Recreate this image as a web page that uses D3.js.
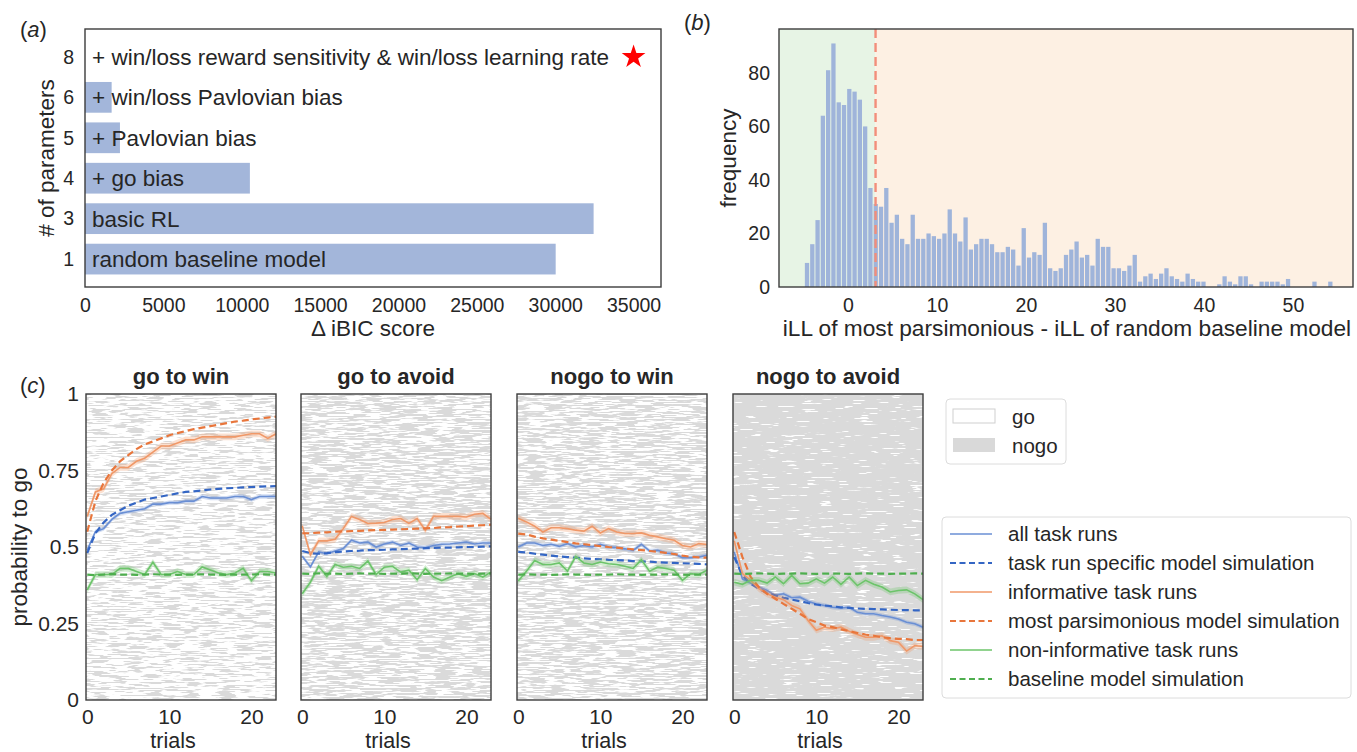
<!DOCTYPE html>
<html>
<head>
<meta charset="utf-8">
<script src="https://cdn.jsdelivr.net/npm/d3@7"></script>
<style>
  body { margin: 0; background: #fff; }
  svg { font-family: "Liberation Sans", Arial, sans-serif; }
</style>
</head>
<body>
<script>
// ---- panel (a): model comparison ----
var paramCounts = ["1", "3", "4", "5", "6", "8"];
var modelNames = ["random baseline model", "basic RL", "+ go bias", "+ Pavlovian bias",
  "+ win/loss Pavlovian bias", "+ win/loss reward sensitivity & win/loss learning rate"];
var deltaIBIC = [30030, 32450, 10520, 2230, 1700, 0];
var bestModel = 5;           // index of the starred model
var starAt = 35000;
var iBICTicks = [0, 5000, 10000, 15000, 20000, 25000, 30000, 35000];

// ---- panel (b): histogram ----
var binStart = -4.9, binWidth = 0.594;
var histCounts = [9,16,25,64,81,91,69,68,74,73, 70,60,37,31,30,37,24,27,18,16,
  27,18,18,20,19,18,20,29,20,17, 26,14,16,18,18,16,13,13,15,14,
  8,22,11,13,12,24,7,6,7,12, 14,17,11,12,8,18,15,15,7,7,
  6,8,12,2,4,5,3,5,7,4, 3,2,5,3,2,2,0,0,1,4,
  2,1,4,4,1,0,2,2,2,2, 1,3,0,0,0,0,2,0,0,2];
var informativeCut = 3.1;
var histXTicks = [0, 10, 20, 30, 40, 50];
var histYTicks = [0, 20, 40, 60, 80];

// ---- panel (c): learning curves, one row per condition ----
var conditions = ["go to win", "go to avoid", "nogo to win", "nogo to avoid"];
var trialTicks = [0, 10, 20];
var probTicks = [0, 0.25, 0.5, 0.75, 1];
var probLabels = ["0", "0.25", "0.5", "0.75", "1"];

var allRuns = [
  [0.49,0.55,0.56,0.59,0.61,0.615,0.62,0.625,0.64,0.64,0.645,0.645,0.65,0.65,0.665,0.66,0.66,0.66,0.665,0.665,0.655,0.665,0.665,0.665],
  [0.47,0.435,0.484,0.478,0.487,0.495,0.522,0.513,0.516,0.5,0.51,0.516,0.505,0.513,0.5,0.498,0.505,0.509,0.51,0.513,0.516,0.51,0.513,0.513],
  [0.5,0.513,0.513,0.505,0.509,0.502,0.511,0.5,0.505,0.5,0.509,0.5,0.498,0.494,0.489,0.509,0.487,0.489,0.48,0.478,0.465,0.465,0.467,0.473],
  [0.484,0.396,0.382,0.369,0.358,0.342,0.347,0.334,0.336,0.323,0.314,0.309,0.303,0.301,0.303,0.287,0.282,0.282,0.276,0.271,0.265,0.254,0.249,0.238]
];
var taskRunSim = [
  [0.48,0.545,0.58,0.605,0.62,0.635,0.645,0.655,0.66,0.665,0.67,0.675,0.68,0.682,0.685,0.688,0.69,0.692,0.693,0.695,0.696,0.697,0.698,0.699],
  [0.487,0.48,0.478,0.48,0.483,0.485,0.487,0.488,0.49,0.49,0.491,0.492,0.493,0.494,0.495,0.496,0.497,0.498,0.498,0.499,0.5,0.5,0.501,0.502],
  [0.484,0.482,0.478,0.475,0.472,0.469,0.467,0.465,0.463,0.461,0.46,0.458,0.457,0.456,0.454,0.453,0.452,0.45,0.449,0.448,0.447,0.446,0.445,0.443],
  [0.467,0.407,0.38,0.364,0.349,0.342,0.334,0.328,0.323,0.317,0.312,0.309,0.306,0.303,0.301,0.299,0.298,0.297,0.296,0.295,0.294,0.294,0.293,0.293]
];
var informativeRuns = [
  [0.6,0.68,0.69,0.74,0.76,0.76,0.78,0.79,0.81,0.83,0.83,0.84,0.85,0.85,0.86,0.86,0.86,0.86,0.86,0.865,0.87,0.87,0.855,0.87],
  [0.569,0.475,0.52,0.52,0.525,0.56,0.6,0.59,0.577,0.578,0.58,0.59,0.593,0.577,0.593,0.555,0.6,0.6,0.6,0.6,0.598,0.607,0.61,0.59],
  [0.594,0.582,0.568,0.549,0.563,0.563,0.56,0.555,0.552,0.568,0.546,0.56,0.549,0.544,0.544,0.546,0.538,0.533,0.527,0.522,0.505,0.5,0.511,0.508],
  [0.52,0.413,0.391,0.364,0.347,0.336,0.328,0.309,0.298,0.26,0.228,0.238,0.233,0.238,0.225,0.214,0.205,0.205,0.21,0.194,0.189,0.16,0.178,0.175]
];
var parsimoniousSim = [
  [0.55,0.65,0.71,0.75,0.78,0.8,0.82,0.835,0.845,0.855,0.865,0.872,0.879,0.885,0.89,0.895,0.9,0.905,0.91,0.913,0.917,0.92,0.923,0.926],
  [0.545,0.545,0.547,0.548,0.55,0.551,0.552,0.553,0.554,0.555,0.556,0.557,0.558,0.559,0.56,0.561,0.562,0.564,0.565,0.567,0.568,0.57,0.571,0.573],
  [0.544,0.541,0.534,0.528,0.524,0.52,0.516,0.512,0.509,0.506,0.503,0.5,0.498,0.495,0.492,0.49,0.487,0.484,0.481,0.477,0.472,0.468,0.466,0.465],
  [0.549,0.467,0.402,0.369,0.347,0.331,0.314,0.298,0.282,0.265,0.254,0.243,0.238,0.231,0.225,0.219,0.214,0.21,0.205,0.202,0.2,0.199,0.196,0.196]
];
var nonInformativeRuns = [
  [0.36,0.41,0.41,0.41,0.43,0.43,0.42,0.41,0.45,0.41,0.41,0.42,0.41,0.41,0.435,0.425,0.415,0.41,0.415,0.43,0.39,0.42,0.42,0.415],
  [0.347,0.385,0.437,0.404,0.443,0.434,0.437,0.43,0.454,0.41,0.434,0.437,0.418,0.424,0.393,0.43,0.402,0.39,0.402,0.413,0.404,0.413,0.402,0.418],
  [0.389,0.421,0.456,0.443,0.443,0.448,0.421,0.469,0.448,0.443,0.451,0.445,0.443,0.437,0.43,0.458,0.421,0.434,0.43,0.424,0.391,0.413,0.41,0.424],
  [0.385,0.378,0.391,0.391,0.382,0.402,0.38,0.407,0.38,0.382,0.396,0.382,0.402,0.378,0.402,0.374,0.391,0.378,0.369,0.353,0.358,0.36,0.347,0.328]
];
var baselineSim = [
  [0.41,0.408,0.41,0.412,0.41,0.41,0.409,0.41,0.411,0.41,0.41,0.409,0.41,0.41,0.411,0.41,0.41,0.409,0.41,0.41,0.41,0.411,0.41,0.41],
  [0.413,0.412,0.414,0.413,0.413,0.412,0.413,0.414,0.413,0.413,0.412,0.413,0.413,0.414,0.413,0.412,0.413,0.413,0.414,0.413,0.413,0.412,0.413,0.413],
  [0.41,0.411,0.41,0.41,0.409,0.41,0.411,0.41,0.41,0.409,0.41,0.41,0.411,0.41,0.41,0.409,0.41,0.41,0.411,0.41,0.41,0.409,0.41,0.41],
  [0.413,0.412,0.413,0.414,0.413,0.412,0.413,0.413,0.414,0.413,0.412,0.413,0.413,0.413,0.412,0.413,0.414,0.413,0.413,0.412,0.413,0.413,0.414,0.413]
];
var ciHalf = [0.007, 0.011, 0.011];   // all / informative / non-informative

var legendLabels = ["all task runs", "task run specific model simulation", "informative task runs",
  "most parsimonious model simulation", "non-informative task runs", "baseline model simulation"];

// ------------------------------------------------------------------
var W = 1357, H = 752;
var ink = "#262626", frame = "#3c3c3c";
var barBlue = "#a3b6da";
var solidCol = ["#6a8fd4", "#f09868", "#6cc46a"];
var dashCol = ["#3466c4", "#e8763c", "#4eae4e"];

var svg = d3.select("body").append("svg").attr("width", W).attr("height", H);
var defs = svg.append("defs");

function panelLetter(x, y, l) {
  var t = svg.append("text").attr("x", x).attr("y", y).attr("font-size", 22).attr("fill", ink);
  t.append("tspan").text("(");
  t.append("tspan").attr("font-style", "italic").text(l);
  t.append("tspan").text(")");
}

// ================= panel (a) =================
var xA = d3.scaleLinear().domain([0, 36750]).range([85, 661]);
var yA = d3.scaleLinear().domain([-0.69, 5.69]).range([287, 29]);
var gA = svg.append("g");

gA.selectAll("rect.bar").data(deltaIBIC).join("rect")
  .attr("class", "bar")
  .attr("x", xA(0))
  .attr("y", function(d, i) { return yA(i + 0.38); })
  .attr("width", function(d) { return xA(d) - xA(0); })
  .attr("height", yA(0) - yA(0.76))
  .attr("fill", barBlue);

gA.selectAll("text.model").data(modelNames).join("text")
  .attr("class", "model")
  .attr("x", xA(0) + 7)
  .attr("y", function(d, i) { return yA(i); })
  .attr("dy", "0.36em")
  .attr("font-size", 22.5)
  .attr("fill", ink)
  .text(function(d) { return d; });

gA.append("path")
  .attr("d", d3.symbol(d3.symbolStar).size(175)())
  .attr("transform", "translate(" + xA(starAt) + "," + yA(bestModel) + ")")
  .attr("fill", "#ff0000");

gA.append("rect").attr("x", 85).attr("y", 29).attr("width", 576).attr("height", 258)
  .attr("fill", "none").attr("stroke", frame).attr("stroke-width", 1.4);

var axA = gA.append("g").attr("transform", "translate(0,287)")
  .call(d3.axisBottom(xA).tickValues(iBICTicks).tickSize(0).tickPadding(11).tickFormat(d3.format("d")));
var ayA = gA.append("g").attr("transform", "translate(85,0)")
  .call(d3.axisLeft(yA).tickValues(d3.range(paramCounts.length)).tickSize(0).tickPadding(11)
    .tickFormat(function(i) { return paramCounts[i]; }));
[axA, ayA].forEach(function(a) {
  a.select(".domain").remove();
  a.selectAll("text").attr("font-size", 19.5).attr("fill", ink).attr("font-family", null);
});
gA.append("text").attr("x", 373).attr("y", 336).attr("text-anchor", "middle")
  .attr("font-size", 22.5).attr("fill", ink).text("\u0394 iBIC score");
gA.append("text").attr("transform", "translate(54,158) rotate(-90)").attr("text-anchor", "middle")
  .attr("font-size", 22.5).attr("fill", ink).text("# of parameters");
panelLetter(20, 37, "a");

// ================= panel (b) =================
var xB = d3.scaleLinear().domain([-7.75, 56.75]).range([779, 1353]);
var yB = d3.scaleLinear().domain([0, 96.4]).range([287, 29]);
var gB = svg.append("g");

gB.append("rect").attr("x", xB.range()[0]).attr("y", 29)
  .attr("width", xB(informativeCut) - xB.range()[0]).attr("height", 258).attr("fill", "#e7f4e5");
gB.append("rect").attr("x", xB(informativeCut)).attr("y", 29)
  .attr("width", xB.range()[1] - xB(informativeCut)).attr("height", 258).attr("fill", "#fdf0e3");

gB.selectAll("rect.bin").data(histCounts).join("rect")
  .attr("class", "bin")
  .attr("x", function(d, i) { return xB(binStart + i * binWidth) + 0.5; })
  .attr("y", function(d) { return yB(d); })
  .attr("width", xB(binWidth) - xB(0) - 1)
  .attr("height", function(d) { return yB(0) - yB(d); })
  .attr("fill", "#9fb4da");

gB.append("line").attr("x1", xB(informativeCut)).attr("x2", xB(informativeCut))
  .attr("y1", 29).attr("y2", 287)
  .attr("stroke", "#f28e7b").attr("stroke-width", 2.4).attr("stroke-dasharray", "9,5");

gB.append("rect").attr("x", 779).attr("y", 29).attr("width", 574).attr("height", 258)
  .attr("fill", "none").attr("stroke", frame).attr("stroke-width", 1.4);

var axB = gB.append("g").attr("transform", "translate(0,287)")
  .call(d3.axisBottom(xB).tickValues(histXTicks).tickSize(0).tickPadding(11));
var ayB = gB.append("g").attr("transform", "translate(779,0)")
  .call(d3.axisLeft(yB).tickValues(histYTicks).tickSize(0).tickPadding(9));
[axB, ayB].forEach(function(a) {
  a.select(".domain").remove();
  a.selectAll("text").attr("font-size", 19.5).attr("fill", ink).attr("font-family", null);
});
gB.append("text").attr("x", 1067).attr("y", 336).attr("text-anchor", "middle")
  .attr("font-size", 22.7).attr("fill", ink).text("iLL of most parsimonious - iLL of random baseline model");
gB.append("text").attr("transform", "translate(736,158) rotate(-90)").attr("text-anchor", "middle")
  .attr("font-size", 22.5).attr("fill", ink).text("frequency");
panelLetter(684, 30, "b");

// ================= panel (c) =================
var panelLeft = [86, 301, 517, 733], panelW = 190;
var topC = 394, botC = 700;
var rasterCut = [0.46, 0.515, 0.51, 0.69];   // texture density of the go/nogo raster
var yC = d3.scaleLinear().domain([0, 1]).range([botC, topC]);

conditions.forEach(function(cond, k) {
  var left = panelLeft[k];
  var xC = d3.scaleLinear().domain([-0.15, 23]).range([left, left + panelW]);
  var g = svg.append("g");

  // go / nogo raster drawn as a streak texture
  var gain = 16;
  var f = defs.append("filter").attr("id", "raster" + k)
    .attr("filterUnits", "userSpaceOnUse")
    .attr("x", left).attr("y", topC).attr("width", panelW).attr("height", botC - topC)
    .attr("color-interpolation-filters", "sRGB");
  f.append("feTurbulence").attr("type", "fractalNoise").attr("baseFrequency", "0.055 0.62")
    .attr("numOctaves", 2).attr("seed", 3 + k * 11).attr("result", "noise");
  f.append("feColorMatrix").attr("in", "noise").attr("type", "matrix")
    .attr("values", "0 0 0 0 1  0 0 0 0 1  0 0 0 0 1  " + gain + " 0 0 0 " + (0.5 - gain * rasterCut[k]));
  g.append("rect").attr("x", left).attr("y", topC).attr("width", panelW).attr("height", botC - topC)
    .attr("fill", "#dadada");
  g.append("rect").attr("x", left).attr("y", topC).attr("width", panelW).attr("height", botC - topC)
    .attr("fill", "#fff").attr("filter", "url(#raster" + k + ")");

  var line = d3.line().x(function(d, i) { return xC(i); }).y(function(d) { return yC(d); });
  var solids = [allRuns[k], informativeRuns[k], nonInformativeRuns[k]];
  var dashes = [taskRunSim[k], parsimoniousSim[k], baselineSim[k]];

  solids.forEach(function(s, j) {
    var band = d3.area().x(function(d, i) { return xC(i); })
      .y0(function(d) { return yC(d - ciHalf[j]); })
      .y1(function(d) { return yC(d + ciHalf[j]); });
    g.append("path").attr("d", band(s)).attr("fill", solidCol[j]).attr("opacity", 0.3);
    g.append("path").attr("d", line(s)).attr("fill", "none")
      .attr("stroke", solidCol[j]).attr("stroke-width", 1.6);
    g.append("path").attr("d", line(dashes[j])).attr("fill", "none")
      .attr("stroke", dashCol[j]).attr("stroke-width", 2.2).attr("stroke-dasharray", "7,4");
  });

  g.append("rect").attr("x", left).attr("y", topC).attr("width", panelW).attr("height", botC - topC)
    .attr("fill", "none").attr("stroke", frame).attr("stroke-width", 1.4);

  var ax = g.append("g").attr("transform", "translate(0," + botC + ")")
    .call(d3.axisBottom(xC).tickValues(trialTicks).tickSize(0).tickPadding(9));
  ax.select(".domain").remove();
  ax.selectAll("text").attr("font-size", 21).attr("fill", ink).attr("font-family", null);

  if (k === 0) {
    var ay = g.append("g").attr("transform", "translate(" + left + ",0)")
      .call(d3.axisLeft(yC).tickValues(probTicks).tickSize(0).tickPadding(7)
        .tickFormat(function(d, i) { return probLabels[i]; }));
    ay.select(".domain").remove();
    ay.selectAll("text").attr("font-size", 21).attr("fill", ink).attr("font-family", null);
  }

  g.append("text").attr("x", left + panelW / 2).attr("y", 384).attr("text-anchor", "middle")
    .attr("font-size", 22).attr("font-weight", "bold").attr("fill", ink).text(cond);
  g.append("text").attr("x", left + panelW / 2 - 8).attr("y", 748).attr("text-anchor", "middle")
    .attr("font-size", 21.5).attr("fill", ink).text("trials");
});

svg.append("text").attr("transform", "translate(27,547) rotate(-90)").attr("text-anchor", "middle")
  .attr("font-size", 22.5).attr("fill", ink).text("probability to go");
panelLetter(20, 393, "c");

// ---- legends ----
var lg1 = svg.append("g");
lg1.append("rect").attr("x", 946).attr("y", 399).attr("width", 120).attr("height", 65).attr("rx", 4)
  .attr("fill", "#fff").attr("stroke", "#dcdcdc");
lg1.append("rect").attr("x", 953).attr("y", 409).attr("width", 42).attr("height", 14)
  .attr("fill", "#fff").attr("stroke", "#cfcfcf");
lg1.append("rect").attr("x", 953).attr("y", 438).attr("width", 42).attr("height", 14).attr("fill", "#d9d9d9");
lg1.selectAll("text").data(["go", "nogo"]).join("text")
  .attr("x", 1012).attr("y", function(d, i) { return 417 + i * 29; }).attr("dy", "0.32em")
  .attr("font-size", 20.5).attr("fill", ink).text(function(d) { return d; });

var lg2 = svg.append("g");
lg2.append("rect").attr("x", 942).attr("y", 517).attr("width", 409).attr("height", 181).attr("rx", 4)
  .attr("fill", "#fff").attr("stroke", "#dcdcdc");
legendLabels.forEach(function(lab, i) {
  var y = 534 + i * 29, j = Math.floor(i / 2), dashed = i % 2 === 1;
  lg2.append("line").attr("x1", 950).attr("x2", 992).attr("y1", y).attr("y2", y)
    .attr("stroke", dashed ? dashCol[j] : solidCol[j]).attr("stroke-width", dashed ? 2 : 1.6)
    .attr("stroke-dasharray", dashed ? "6,3.5" : null);
  lg2.append("text").attr("x", 1008).attr("y", y).attr("dy", "0.34em")
    .attr("font-size", 20.5).attr("fill", ink).text(lab);
});
</script>
</body>
</html>
